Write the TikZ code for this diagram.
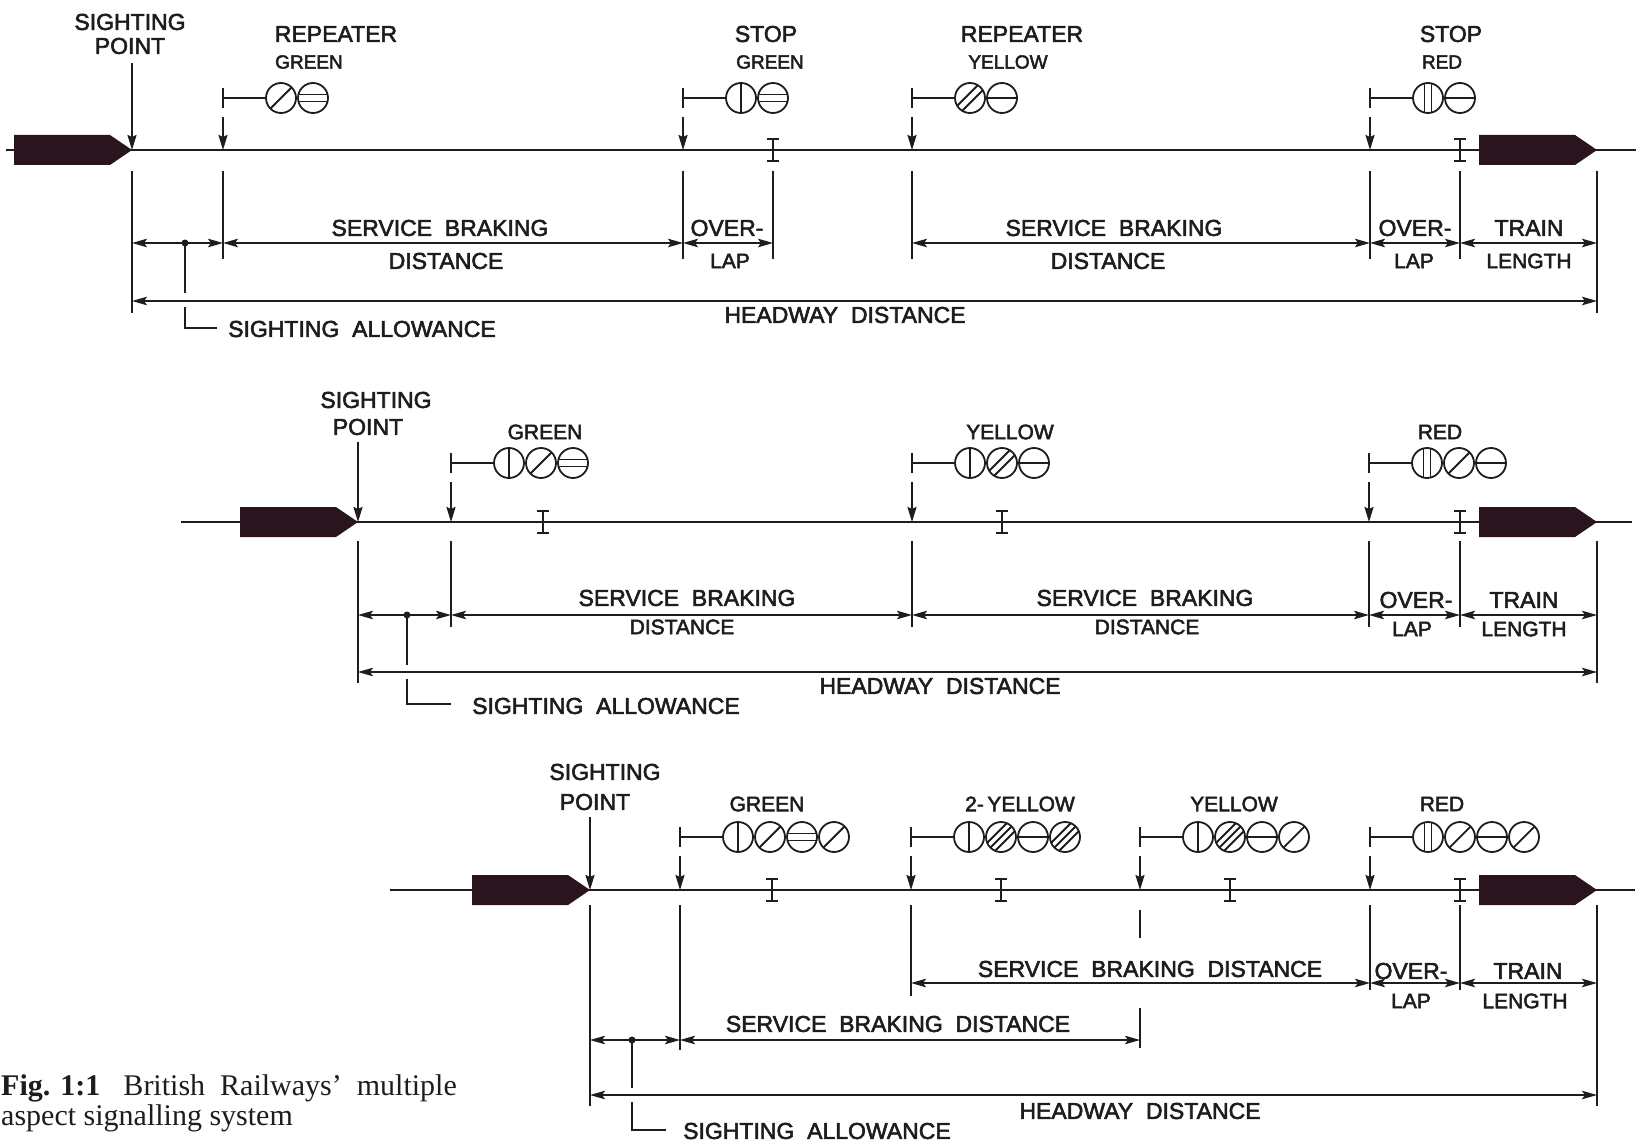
\documentclass[tikz,border=0pt]{standalone}
\usepackage{fontspec}
\setmainfont{Liberation Sans}[FakeBold=2.5]
\newfontfamily\serifcap{Liberation Serif}
\usetikzlibrary{arrows.meta}
\definecolor{ink}{RGB}{30,28,30}
\definecolor{trainc}{RGB}{42,20,30}
\tikzset{
  track/.style={line width=2.2pt},
  ext/.style={line width=1.9pt},
  dimln/.style={line width=1.7pt,{Stealth[length=15pt,width=8.5pt,inset=3pt]}-{Stealth[length=15pt,width=8.5pt,inset=3pt]}},
  dimr/.style={line width=1.7pt,-{Stealth[length=15pt,width=8.5pt,inset=3pt]}},
  sigar/.style={line width=1.9pt,-{Stealth[length=15pt,width=9pt,inset=2pt]}},
  postln/.style={line width=2.1pt},
  lampc/.style={line width=1.8pt},
  imk/.style={line width=2.6pt},
  L/.style={font=\fontsize{23}{23}\selectfont,inner sep=0pt},
  M/.style={font=\fontsize{21}{21}\selectfont,inner sep=0pt},
  S/.style={font=\fontsize{19}{19}\selectfont,inner sep=0pt},
  capt/.style={font=\serifcap\fontsize{30}{30}\selectfont,inner sep=0pt},
}
\newcommand\trainat[2]{\fill[trainc] ({#1-118},{#2-15}) -- ({#1-22},{#2-15}) -- (#1,#2) -- ({#1-22},{#2+15}) -- ({#1-118},{#2+15}) -- cycle;}
\newcommand\imark[2]{\draw[imk] ({#1-6},{#2-11}) -- ({#1+6},{#2-11}) (#1,{#2-11}) -- (#1,{#2+11}) ({#1-6},{#2+11}) -- ({#1+6},{#2+11});}
\newcommand\lpra{\draw[lampc] (0,-16) -- (0,16);}
\newcommand\lprb{\draw[lampc] (-3.5,-16) -- (-3.5,16) (3.5,-16) -- (3.5,16);}
\newcommand\lpga{\draw[lampc] (-16,0) -- (16,0);}
\newcommand\lpgb{\draw[lampc] (-16,-3.5) -- (16,-3.5) (-16,3.5) -- (16,3.5);}
\newcommand\lpya{\draw[lampc] (-20,20) -- (20,-20);}
\newcommand\lpyb{\foreach \d in {-2.5,2.5}{\draw[lampc] ({-20+\d},{20+\d}) -- ({20+\d},{-20+\d});}}
\newcommand\lpyc{\foreach \d in {-4,0,4}{\draw[lampc] ({-20+\d},{20+\d}) -- ({20+\d},{-20+\d});}}
\newcommand\lampat[3]{\begin{scope}[shift={({#1},{#2})}]
  \begin{scope}\clip (0,0) circle[radius=15]; \csname lp#3\endcsname\end{scope}
  \draw[lampc] (0,0) circle[radius=15];
\end{scope}}
\newcommand\signal[4]{%
  \draw[postln] (#1,{#2-10}) -- (#1,{#2+10}) (#1,#2) -- ({#1+43},#2);
  \draw[sigar] (#1,{#2+19}) -- (#1,#3);
  \foreach \t [count=\i] in {#4}{\lampat{#1+58+32*(\i-1)}{#2}{\t}}%
}
\begin{document}
\begin{tikzpicture}[x=1pt,y=-1pt,color=ink]
\useasboundingbox (0,0) rectangle (1644,1145);
\fill[white] (0,0) rectangle (1644,1145);

% ================= PANEL 1 =================
\draw[track] (6,150) -- (1636,150);
\trainat{132}{150}
\trainat{1597}{150}
\draw[sigar] (132,63) -- (132,150);
\node[L] (sp1a) at (130,22) {SIGHTING};
\node[L] (sp1b) at (130,46) {POINT};
\signal{223}{98}{150}{ya,gb}
\signal{683}{98}{150}{ra,gb}
\signal{912}{98}{150}{yb,ga}
\signal{1370}{98}{150}{rb,ga}
\imark{773}{150}
\imark{1460}{150}
\node[L] at (336,34) {REPEATER};
\node[S] at (309,62) {GREEN};
\node[L] at (766,34) {STOP};
\node[S] at (770,62) {GREEN};
\node[L] at (1022,34) {REPEATER};
\node[S] at (1008,62) {YELLOW};
\node[L] at (1451,34) {STOP};
\node[S] at (1442,62) {RED};
\foreach \x in {223,683,773,912,1370,1460} \draw[ext] (\x,171) -- (\x,259);
\foreach \x in {132,1597} \draw[ext] (\x,171) -- (\x,313);
\draw[dimr] (185,243) -- (132,243);
\draw[dimr] (185,243) -- (223,243);
\fill (185,243) circle[radius=3.5];
\draw[dimln] (223,243) -- (683,243);
\draw[dimln] (683,243) -- (773,243);
\draw[dimln] (912,243) -- (1370,243);
\draw[dimln] (1370,243) -- (1460,243);
\draw[dimln] (1460,243) -- (1597,243);
\draw[dimln] (132,301) -- (1597,301);
\draw[ext] (185,243) -- (185,293) (185,307) -- (185,328) -- (217,328);
\node[L] at (440,228) {SERVICE\ \ BRAKING};
\node[L] at (446,261) {DISTANCE};
\node[L] at (727,228) {OVER-};
\node[M] at (730,261) {LAP};
\node[L] at (1114,228) {SERVICE\ \ BRAKING};
\node[L] at (1108,261) {DISTANCE};
\node[L] at (1415,228) {OVER-};
\node[M] at (1414,261) {LAP};
\node[L] at (1529,228) {TRAIN};
\node[M] at (1529,261) {LENGTH};
\node[L] at (845,315) {HEADWAY\ \ DISTANCE};
\node[L,anchor=west] at (228,329) {SIGHTING\ \ ALLOWANCE};

% ================= PANEL 2 =================
\draw[track] (181,522) -- (1632,522);
\trainat{358}{522}
\trainat{1597}{522}
\draw[sigar] (358,442) -- (358,522);
\node[L] at (376,400) {SIGHTING};
\node[L] at (368,427) {POINT};
\signal{451}{463}{522}{ra,ya,gb}
\signal{912}{463}{522}{ra,yb,ga}
\signal{1369}{463}{522}{rb,ya,ga}
\imark{543}{522}
\imark{1002}{522}
\imark{1460}{522}
\node[M] at (545,432) {GREEN};
\node[M] at (1010,432) {YELLOW};
\node[M] at (1440,432) {RED};
\foreach \x in {451,912,1369,1460} \draw[ext] (\x,541) -- (\x,627);
\foreach \x in {358,1597} \draw[ext] (\x,541) -- (\x,683);
\draw[dimr] (407,615) -- (358,615);
\draw[dimr] (407,615) -- (451,615);
\fill (407,615) circle[radius=3.5];
\draw[dimln] (451,615) -- (912,615);
\draw[dimln] (912,615) -- (1369,615);
\draw[dimln] (1369,615) -- (1460,615);
\draw[dimln] (1460,615) -- (1597,615);
\draw[dimln] (358,672) -- (1597,672);
\draw[ext] (407,615) -- (407,665) (407,679) -- (407,704) -- (451,704);
\node[L] at (687,598) {SERVICE\ \ BRAKING};
\node[M] at (682,627) {DISTANCE};
\node[L] at (1145,598) {SERVICE\ \ BRAKING};
\node[M] at (1147,627) {DISTANCE};
\node[L] at (1416,600) {OVER-};
\node[M] at (1412,629) {LAP};
\node[L] at (1524,600) {TRAIN};
\node[M] at (1524,629) {LENGTH};
\node[L] at (940,686) {HEADWAY\ \ DISTANCE};
\node[L,anchor=west] at (472,706) {SIGHTING\ \ ALLOWANCE};

% ================= PANEL 3 =================
\draw[track] (390,890) -- (1635,890);
\trainat{590}{890}
\trainat{1597}{890}
\draw[sigar] (590,817) -- (590,890);
\node[L] at (605,772) {SIGHTING};
\node[L] at (595,802) {POINT};
\signal{680}{837}{890}{ra,ya,gb,ya}
\signal{911}{837}{890}{ra,yc,ga,yc}
\signal{1140}{837}{890}{ra,yc,ga,ya}
\signal{1370}{837}{890}{rb,ya,ga,ya}
\imark{772}{890}
\imark{1001}{890}
\imark{1230}{890}
\imark{1460}{890}
\node[M] at (767,804) {GREEN};
\node[M] at (1020,804) {2-\,YELLOW};
\node[M] at (1234,804) {YELLOW};
\node[M] at (1442,804) {RED};
\draw[ext] (590,905) -- (590,1106);
\draw[ext] (1597,905) -- (1597,1106);
\draw[ext] (680,905) -- (680,1050);
\draw[ext] (911,905) -- (911,996);
\draw[ext] (1140,910) -- (1140,938) (1140,1008) -- (1140,1048);
\draw[ext] (1370,905) -- (1370,990);
\draw[ext] (1460,905) -- (1460,990);
\draw[dimln] (911,983) -- (1370,983);
\draw[dimln] (1370,983) -- (1460,983);
\draw[dimln] (1460,983) -- (1597,983);
\draw[dimr] (632,1040) -- (590,1040);
\draw[dimr] (632,1040) -- (680,1040);
\fill (632,1040) circle[radius=3.5];
\draw[dimln] (680,1040) -- (1140,1040);
\draw[dimln] (590,1095) -- (1597,1095);
\draw[ext] (632,1040) -- (632,1088) (632,1102) -- (632,1130) -- (666,1130);
\node[L] at (1150,969) {SERVICE\ \ BRAKING\ \ DISTANCE};
\node[L] at (1411,971) {OVER-};
\node[M] at (1411,1001) {LAP};
\node[L] at (1528,971) {TRAIN};
\node[M] at (1525,1001) {LENGTH};
\node[L] at (898,1024) {SERVICE\ \ BRAKING\ \ DISTANCE};
\node[L] at (1140,1111) {HEADWAY\ \ DISTANCE};
\node[L,anchor=west] at (683,1131) {SIGHTING\ \ ALLOWANCE};

% ================= CAPTION =================
\node[capt,anchor=base west] (cap1) at (1,1095) {\textbf{Fig. 1:1}};
\node[capt,anchor=base east] (cap2) at (457,1095) {British\ \ Railways’\ \ multiple};
\node[capt,anchor=base west] (cap3) at (1,1125) {aspect signalling system};
\end{tikzpicture}
\end{document}
